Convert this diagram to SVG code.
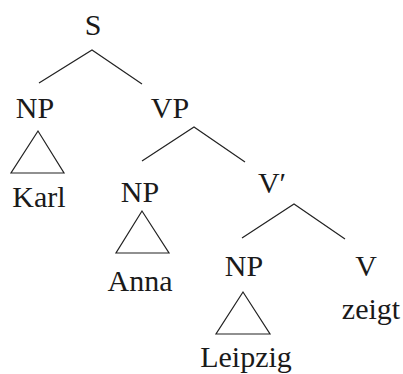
<svg xmlns="http://www.w3.org/2000/svg" width="403" height="374" viewBox="0 0 403 374">
<style>
text{font-family:"Liberation Serif","DejaVu Serif",serif;font-size:30px;fill:#1a1a1a;text-anchor:middle}
.e{stroke:#222;stroke-width:1.2;fill:none}
</style>
<rect width="403" height="374" fill="#fff"/>
<g id="connectors">
<path class="e" d="M39 83 L92 50 L142 84"/>
<path class="e" d="M142 161 L194 127 L245 162"/>
<path class="e" d="M242 238 L294 204 L345 239"/>
</g>
<g id="S"><text x="93" y="35">S</text></g>
<g id="NP1"><text x="35" y="118">NP</text><polygon class="e" points="38,131 11,173 64,173"/></g>
<g id="Karl"><text x="39" y="207">Karl</text></g>
<g id="VP"><text x="170" y="118">VP</text></g>
<g id="NP2"><text x="140" y="202">NP</text><polygon class="e" points="142,211 116,253 169,253"/></g>
<g id="Anna"><text x="140" y="291">Anna</text></g>
<g id="Vbar"><text x="272" y="193">V′</text></g>
<g id="NP3"><text x="244" y="276">NP</text><polygon class="e" points="243,292 216,334 270,334"/></g>
<g id="Leipzig"><text x="246" y="367">Leipzig</text></g>
<g id="V"><text x="366" y="276">V</text></g>
<g id="zeigt"><text x="371" y="319">zeigt</text></g>
</svg>
